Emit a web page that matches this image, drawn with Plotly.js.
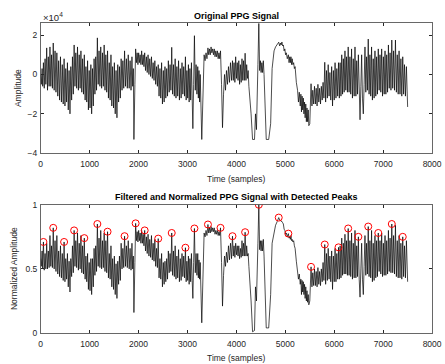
<!DOCTYPE html>
<html>
<head>
<meta charset="utf-8">
<script src="https://cdn.plot.ly/plotly-3.0.1.min.js"></script>
<style>html,body{margin:0;padding:0;background:#fff;}#chart{width:445px;height:364px;}</style>
</head>
<body>
<div id="chart"></div>
<script>
// Sample index (time, samples) of each read-off turning point of the PPG trace
const samples = [
0,12,28,40,55,72,89,105,122,139,155,172,189,206,222,239,256,
275,293,312,330,349,367,386,404,423,441,460,478,495,512,529,546,563,580,598,615,632,649,666,683,
700,717,735,752,770,787,805,822,839,856,874,891,908,924,941,958,975,991,1008,1025,1041,1058,1075,1091,1108,1124,1141,1158,
1175,1192,1210,1227,1245,1262,1280,1297,1314,1331,1349,1366,1384,1401,1419,1436,1453,1470,1488,1505,1523,1540,1558,1575,1592,1609,1627,1644,1662,1679,1697,1714,
1733,1751,1770,1789,1808,1827,1846,1865,1880,1893,1905,1925,1940,1956,1971,1987,2002,2017,2032,2048,2063,2079,2094,2110,2125,
2142,2160,2177,2194,2212,2229,2247,2264,2281,2298,2316,2333,2350,2368,2385,2402,2419,2437,2454,2471,2488,2506,2523,2540,2557,2575,2592,2609,2626,2644,2661,2678,
2696,2713,2731,2748,2765,2783,2800,2818,2835,2853,2870,2888,2905,2923,2940,2958,2973,2988,3004,3019,3034,3050,3065,3081,3096,3110,3126,3142,
3159,3176,3193,3210,3222,3235,3248,3260,3292,3316,3340,3360,3379,3398,3418,3434,3450,3466,3482,3498,3515,3531,3547,3563,3579,3595,3611,3627,3643,3659,3675,
3696,3716,3737,3757,3777,3797,3818,3838,3859,3879,3900,3920,3936,3952,3969,3985,4001,4017,4033,4049,4065,4081,4098,4114,4130,4146,4162,4178,
4195,4210,4225,4240,4255,4270,4300,4330,4370,4390,4410,4440,4458,4475,4490,4505,4520,4535,4550,4565,4590,4610,4660,4700,4730,4770,4800,4835,4865,
4885,4900,4915,4930,4945,4960,4975,4990,5005,5020,5040,5062,5076,5090,5103,5115,5128,5140,5155,5170,5185,5200,5225,5250,5268,5285,5305,5318,5330,5343,5355,5368,5380,5393,5405,5418,5430,5443,5455,5468,5480,5500,5526,
5544,5561,5579,5596,5614,5631,5649,5666,5684,5701,5719,5736,5754,5771,5789,5806,5824,5841,5859,5876,5894,5911,5929,5947,5965,5982,6000,6017,6035,6052,6070,6087,
6104,6120,6137,6153,6170,6186,6203,6219,6236,6252,6269,6285,6303,6320,6337,6354,6372,6389,6407,6424,6442,6459,6476,6493,6510,6527,6544,6560,6577,6594,6611,6628,6645,6661,6678,6695,
6712,6729,6746,6763,6780,6797,6815,6832,6849,6866,6883,6900,6918,6935,6952,6969,6987,7004,7021,7038,7055,7072,7090,7107,7124,7141,7159,7176,7195,7213,7232,7251,7270,7288,7307,7325,7344,7362,7381,7400,7418,7435,7455,7475,7500];

// Original PPG amplitude, in units of 10^4
const rawAmp = [
0.0,-0.5,0.3,-0.6,0.6,-0.7,0.8,-0.5,1.35,-0.8,0.9,-0.6,1.4,-0.6,1.0,-0.7,1.6,
-0.8,1.2,-0.9,1.1,-1.1,0.7,-1.3,0.9,-1.4,0.5,-1.5,0.8,-1.6,0.3,-1.4,0.6,-1.8,0.2,-2.0,0.4,-1.3,0.9,-1.0,1.5,
-0.6,1.1,-0.7,1.4,-0.8,1.0,-0.7,1.2,-0.9,0.8,-1.0,1.0,-1.3,0.4,-1.4,0.7,-1.8,0.2,-1.7,0.5,-2.0,0.3,-1.6,0.8,-1.0,0.9,-0.8,1.86,
-0.5,1.2,-0.6,1.4,-0.7,1.1,-0.6,1.5,-0.8,1.0,-0.9,1.2,-1.2,0.6,-1.3,1.0,-1.6,0.4,-1.7,0.6,-2.0,0.2,-2.2,0.5,-1.4,0.4,-1.2,0.8,-0.8,0.7,-0.7,1.2,
-0.6,0.8,-0.7,1.0,-0.7,0.7,-0.8,0.9,-0.6,0.3,-3.3,-0.5,1.3,0.6,1.1,0.5,1.1,0.6,1.0,0.5,1.2,0.5,1.0,0.4,1.1,
0.2,0.9,0.1,1.0,0.0,0.8,-0.1,0.9,-0.2,0.6,-0.3,0.7,-0.5,0.4,-0.6,0.5,-1.1,0.3,-1.2,0.6,-1.5,0.2,-1.4,0.4,-1.2,0.3,-1.1,0.7,-0.9,0.5,-0.8,1.38,
-1.0,0.5,-1.1,0.8,-1.2,0.4,-1.1,0.7,-1.3,0.3,-1.2,0.6,-1.0,0.4,-1.1,0.9,-1.3,0.2,-1.2,0.5,-1.4,0.3,-1.3,0.6,-1.2,-2.75,-0.5,1.97,
-0.8,0.5,-1.0,0.4,-1.2,0.2,-1.4,0.0,-3.3,-0.5,1.0,0.7,1.1,0.8,1.35,1.0,1.3,1.0,1.4,1.1,1.3,1.0,1.3,0.9,1.2,0.9,1.2,0.8,1.1,0.8,1.2,
-0.5,-2.7,-1.0,0.0,-0.8,0.2,-0.5,0.4,-0.4,0.6,-0.3,0.7,-0.3,0.6,-0.4,0.9,-0.2,0.6,-0.3,0.7,-0.5,0.5,-0.4,0.8,-0.3,0.7,-0.3,1.08,
-0.3,0.5,-0.2,0.2,-0.6,-1.0,-2.0,-3.3,-3.3,-2.0,-2.8,0.5,2.6,0.2,0.7,0.1,0.6,0.1,0.7,0.0,-2.5,-3.3,-3.3,-2.5,0.3,1.2,1.4,1.55,1.64,
1.45,1.6,1.5,1.65,1.45,1.5,1.2,1.3,1.0,1.1,0.8,1.0,0.6,0.9,0.6,0.9,0.5,0.8,0.5,0.6,0.3,0.4,-0.4,-0.8,-1.4,-0.9,-1.6,-1.0,-1.9,-1.1,-1.8,-1.2,-2.0,-1.4,-2.2,-1.5,-2.4,-1.7,-2.4,-1.8,-2.6,-2.5,-0.47,
-1.6,-0.8,-1.5,-0.6,-1.5,-0.7,-1.6,-0.5,-1.4,-0.7,-1.5,-0.6,-1.3,-0.4,-1.2,0.62,-1.4,0.2,-1.2,0.5,-1.1,0.1,-1.3,0.4,-1.6,0.2,-1.3,0.6,-1.2,0.3,-1.1,0.6,
-1.2,0.6,-1.1,1.0,-1.0,0.8,-0.9,1.2,-0.8,0.9,-0.9,1.4,-0.9,0.9,-1.0,1.3,-1.2,0.8,-1.1,1.4,-1.1,0.7,-1.0,1.0,-1.2,-2.3,-0.6,1.0,-1.2,-2.0,-0.5,1.4,-0.9,0.9,-0.8,1.8,
-1.0,1.0,-1.1,1.4,-1.3,0.8,-1.2,1.2,-1.1,0.9,-1.0,1.3,-0.8,1.0,-0.9,1.3,-1.1,0.9,-1.0,1.2,-1.0,1.0,-0.9,1.5,-0.7,1.1,-0.8,1.75,-0.7,1.2,-0.8,1.75,-0.9,1.0,-1.0,1.2,-1.0,0.8,-1.1,0.9,-1.0,0.5,-1.1,0.4,-1.65];

// Filtered and normalized amplitude
const normAmp = [
0.58,0.52,0.64,0.50,0.71,0.49,0.62,0.50,0.70,0.50,0.64,0.51,0.76,0.52,0.68,0.51,0.82,
0.50,0.72,0.48,0.76,0.46,0.64,0.44,0.68,0.43,0.62,0.41,0.71,0.40,0.58,0.42,0.62,0.36,0.56,0.32,0.58,0.44,0.68,0.47,0.80,
0.52,0.72,0.51,0.78,0.49,0.70,0.50,0.76,0.47,0.68,0.46,0.74,0.42,0.60,0.40,0.62,0.34,0.55,0.33,0.58,0.30,0.58,0.36,0.66,0.45,0.68,0.48,0.85,
0.52,0.74,0.51,0.80,0.50,0.72,0.51,0.78,0.48,0.72,0.47,0.79,0.43,0.62,0.42,0.68,0.36,0.58,0.34,0.60,0.30,0.54,0.27,0.56,0.38,0.60,0.41,0.70,0.50,0.66,0.51,0.755,
0.52,0.68,0.51,0.72,0.50,0.66,0.49,0.70,0.50,0.60,0.16,0.55,0.855,0.72,0.79,0.71,0.80,0.72,0.78,0.70,0.80,0.70,0.77,0.68,0.80,
0.64,0.75,0.62,0.77,0.60,0.73,0.59,0.76,0.57,0.70,0.56,0.73,0.52,0.66,0.51,0.736,0.43,0.58,0.42,0.62,0.36,0.55,0.38,0.56,0.40,0.58,0.42,0.64,0.47,0.62,0.48,0.78,
0.45,0.64,0.44,0.68,0.42,0.60,0.43,0.65,0.40,0.58,0.41,0.62,0.44,0.60,0.43,0.665,0.40,0.56,0.41,0.60,0.38,0.58,0.40,0.62,0.41,0.27,0.55,0.815,
0.47,0.62,0.45,0.62,0.43,0.57,0.42,0.55,0.08,0.55,0.78,0.75,0.80,0.76,0.846,0.78,0.82,0.78,0.83,0.79,0.82,0.79,0.82,0.77,0.80,0.77,0.80,0.76,0.79,0.76,0.82,
0.55,0.21,0.45,0.60,0.52,0.63,0.55,0.68,0.57,0.70,0.58,0.755,0.60,0.68,0.59,0.70,0.61,0.68,0.60,0.68,0.58,0.66,0.59,0.72,0.60,0.70,0.60,0.786,
0.60,0.68,0.60,0.62,0.52,0.45,0.25,0.01,0.02,0.36,0.25,0.70,1.0,0.65,0.72,0.64,0.72,0.64,0.73,0.60,0.15,0.04,0.04,0.30,0.70,0.80,0.84,0.87,0.90,
0.88,0.88,0.87,0.87,0.86,0.85,0.81,0.80,0.77,0.78,0.75,0.775,0.74,0.75,0.73,0.76,0.72,0.73,0.71,0.72,0.68,0.66,0.56,0.50,0.42,0.46,0.38,0.42,0.30,0.41,0.32,0.40,0.30,0.38,0.27,0.36,0.25,0.33,0.24,0.30,0.22,0.25,0.516,
0.36,0.47,0.37,0.50,0.37,0.48,0.36,0.51,0.38,0.48,0.37,0.50,0.40,0.55,0.41,0.69,0.38,0.62,0.41,0.66,0.42,0.60,0.40,0.64,0.34,0.60,0.40,0.66,0.40,0.62,0.42,0.668,
0.42,0.68,0.43,0.74,0.45,0.70,0.46,0.77,0.46,0.72,0.45,0.815,0.45,0.72,0.44,0.78,0.42,0.70,0.43,0.80,0.43,0.68,0.44,0.75,0.42,0.28,0.50,0.70,0.42,0.30,0.52,0.76,0.45,0.70,0.46,0.83,
0.44,0.72,0.43,0.80,0.40,0.70,0.41,0.76,0.43,0.72,0.44,0.78,0.48,0.72,0.46,0.78,0.44,0.70,0.45,0.76,0.45,0.72,0.46,0.80,0.48,0.74,0.47,0.85,0.47,0.76,0.46,0.84,0.44,0.72,0.43,0.76,0.43,0.70,0.42,0.75,0.44,0.68,0.43,0.72,0.40];

// Detected peaks
const peakSamples = [55,256,478,683,891,1158,1366,1714,1940,2125,2402,2678,2958,3142,3418,3675,3920,4178,4458,4865,5062,5526,5806,6087,6285,6493,6695,6900,7176,7400];
const peakValues = [0.71,0.82,0.71,0.80,0.74,0.85,0.79,0.755,0.855,0.80,0.736,0.78,0.665,0.815,0.846,0.82,0.755,0.786,1.0,0.90,0.775,0.516,0.69,0.668,0.815,0.75,0.83,0.78,0.85,0.75];

const xTicks = [0,1000,2000,3000,4000,5000,6000,7000,8000];
const rawTicks = [-4,-2,0,2];
const normTicks = [0,0.5,1];
const normTickText = ['0','0.5','1'];

if (samples.length !== rawAmp.length || samples.length !== normAmp.length) {
  console.error('length mismatch', samples.length, rawAmp.length, normAmp.length);
}

const FONT = 'Liberation Sans, Arial, Helvetica, sans-serif';
const AX = '#262626';

const traces = [
  {x: samples, y: rawAmp, type: 'scatter', mode: 'lines', xaxis: 'x', yaxis: 'y',
   line: {color: '#000', width: 0.7}, hoverinfo: 'skip'},
  {x: samples, y: normAmp, type: 'scatter', mode: 'lines', xaxis: 'x2', yaxis: 'y2',
   line: {color: '#000', width: 0.7}, hoverinfo: 'skip'},
  {x: peakSamples, y: peakValues, type: 'scatter', mode: 'markers', xaxis: 'x2', yaxis: 'y2',
   marker: {symbol: 'circle-open', size: 7, color: '#ff0000', line: {width: 1, color: '#ff0000'}}, hoverinfo: 'skip'}
];

function xa(anchor) {
  return {domain: [0.0915, 0.971], range: [0, 8000], tickvals: xTicks, ticks: 'inside', ticklen: 3,
    tickcolor: AX, showline: true, linecolor: AX, linewidth: 0.7, mirror: 'allticks',
    showgrid: false, zeroline: false, tickfont: {family: FONT, size: 8.5, color: AX},
    ticklabelstandoff: 3, anchor: anchor, fixedrange: true};
}
function ya(anchor, dom, range, tv, tt) {
  const o = {domain: dom, range: range, tickvals: tv, ticks: 'inside', ticklen: 3,
    tickcolor: AX, showline: true, linecolor: AX, linewidth: 0.7, mirror: 'allticks',
    showgrid: false, zeroline: false, tickfont: {family: FONT, size: 8.5, color: AX},
    ticklabelstandoff: 1, anchor: anchor, fixedrange: true};
  if (tt) o.ticktext = tt;
  return o;
}

const ann = (text, x, y, size, opts) => Object.assign({text: text, x: x, y: y, xref: 'paper', yref: 'paper',
  showarrow: false, font: {family: FONT, size: size, color: AX}, xanchor: 'center', yanchor: 'middle'}, opts || {});

const layout = {
  width: 445, height: 364, margin: {l: 0, r: 0, t: 0, b: 0},
  paper_bgcolor: '#fff', plot_bgcolor: '#fff', showlegend: false,
  xaxis: xa('y'),
  yaxis: ya('x', [0.579, 0.936], [-4, 2.6], rawTicks),
  xaxis2: xa('y2'),
  yaxis2: ya('x2', [0.085, 0.4375], [0, 1], normTicks, normTickText),
  annotations: [
    ann('<b>Original PPG Signal</b>', 0.5315, 0.957, 9, {font: {family: FONT, size: 9, color: '#000'}}),
    ann('<b>Filtered and Normalized PPG Signal with Detected Peaks</b>', 0.531, 0.4596, 9, {font: {family: FONT, size: 9, color: '#000'}}),
    ann('×10<sup>4</sup>', 0.0925, 0.952, 9.5, {xanchor: 'left'}),
    ann('Time (samples)', 0.531, 0.507, 8.5),
    ann('Time (samples)', 0.531, 0.0165, 8.5),
    ann('Amplitude', 0.0404, 0.758, 8.5, {textangle: -90}),
    ann('Normalized Amplitude', 0.0315, 0.261, 8.5, {textangle: -90})
  ]
};

Plotly.newPlot('chart', traces, layout, {staticPlot: true, displayModeBar: false});
</script>
</body>
</html>
